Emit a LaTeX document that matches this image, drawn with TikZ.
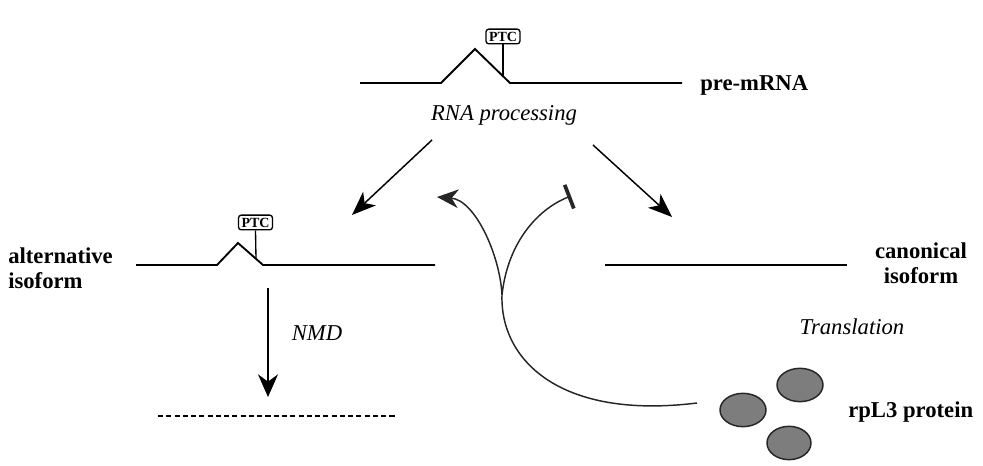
\documentclass[tikz,border=0pt]{standalone}
\usepackage{fontspec}
\setmainfont{Liberation Serif}
\usetikzlibrary{arrows.meta,shapes.geometric}
\definecolor{protgray}{RGB}{125,125,125}
\begin{document}
\begin{tikzpicture}[x=0.75pt,y=-0.75pt,
  rna/.style={line width=1.4pt, line join=miter},
  bigarrow/.style={-{Stealth[length=18pt,width=14pt,inset=5pt]}, line width=1.1pt},
  curvearrow/.style={line width=1.1pt, draw=black!85},
  ptc/.style={draw, rounded corners=2pt, line width=1pt, font=\bfseries\fontsize{10.5}{11}\selectfont, inner xsep=2.2pt, inner ysep=1.2pt, minimum height=11pt},
  lab/.style={font=\bfseries\fontsize{17}{19}\selectfont, inner sep=0pt},
  proc/.style={font=\itshape\fontsize{17}{19}\selectfont, inner sep=0pt},
  prot/.style={ellipse, draw=black!85, line width=1.1pt, fill=protgray, inner sep=0pt}
]
\useasboundingbox (0,0) rectangle (983,466);

% pre-mRNA
\draw[rna] (360,83) -- (441,83) -- (475,49) -- (510,83) -- (682,83);
\node[ptc] (ptc1) at (503,36.5) {PTC};
\coordinate (s1) at (503,76.2);
\draw[line width=1pt] (ptc1.south) -- (s1);
\node[lab, anchor=west] (pre) at (700,85) {pre-mRNA};
\node[proc] (proc) at (504,115) {RNA processing};

% processing arrows
\coordinate (a1s) at (432,140);
\coordinate (a1e) at (352,215);
\coordinate (a2s) at (593,145);
\coordinate (a2e) at (672,217);
\draw[bigarrow] (a1s) -- (a1e);
\draw[bigarrow] (a2s) -- (a2e);

% alternative isoform
\draw[rna] (136,265) -- (217,265) -- (238,243) -- (263,265) -- (435,265);
\node[ptc] (ptc2) at (255.5,222.5) {PTC};
\coordinate (s2) at (256,258.8);
\draw[line width=1pt] (ptc2.south) -- (s2);
\node[lab, anchor=west, align=left] (alt) at (8,268) {alternative\\isoform};

% NMD
\coordinate (n1) at (268,288);
\coordinate (n2) at (268,397);
\draw[-{Stealth[length=17pt,width=15pt,inset=5.5pt]}, line width=1.4pt] (n1) -- (n2);
\node[proc] (nmd) at (317,333) {NMD};
\coordinate (d1) at (158,416);
\coordinate (d2) at (397,416);
\draw[line width=1.1pt, dash pattern=on 3.8pt off 2.4pt] (d1) -- (d2);

% canonical isoform
\draw[rna] (605,265) -- (847,265);
\node[lab, align=center] (can) at (921,263) {canonical\\isoform};
\node[proc] (trans) at (852,327) {Translation};

% proteins
\node[prot, minimum width=34.5pt, minimum height=25pt] (p1) at (743,410) {};
\node[prot, minimum width=34.5pt, minimum height=25pt] (p2) at (800,385) {};
\node[prot, minimum width=33pt, minimum height=25pt] (p3) at (789,443) {};
\node[lab, anchor=west] (rpl) at (848,412) {rpL3 protein};

% feedback curves
\coordinate (cs) at (697,403);
\coordinate (J) at (502,295);
\coordinate (tipL) at (437,197);
\coordinate (tipR) at (571,196);
\draw[curvearrow] (cs) .. controls (560,420) and (500,360) .. (J);
\draw[curvearrow, -{Stealth[length=16pt,width=14pt,inset=5pt]}] (J) .. controls (500,255) and (475,200) .. (tipL);
\draw[curvearrow, -{Bar[width=19pt,line width=2.8pt]}] (J) .. controls (508,240) and (540,208) .. (tipR);
\end{tikzpicture}
\end{document}
